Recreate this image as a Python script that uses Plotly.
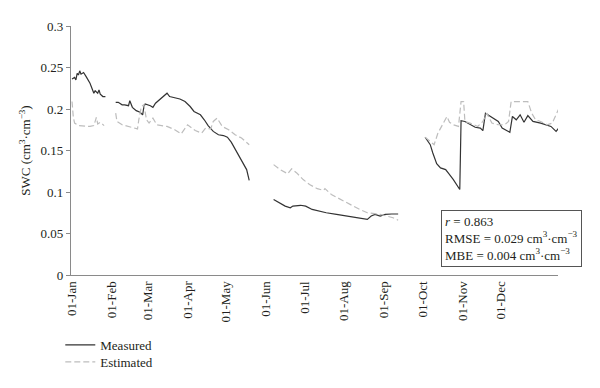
import plotly.graph_objects as go

# Day index (0 = 01-Jan) and soil water content values; None marks data gaps
measured_day = [0, 2, 3, 4, 5, 6, 7, 9, 11, 14, 17, 18, 20, 21, 22, 24, 26, None,
                34, 36, 39, 41, 44, 45, 47, 50, 53, 55, 56, 57, 61, 63, 65, 68, 71, 74, 76, 79,
                84, 88, 92, 95, 100, 103, 106, 110, 114, 118, 121, 124, 128, 132, 136, 138, None,
                157, 161, 166, 170, 172, 178, 182, 187, 192, 198, 206, 214, 222, 230, 233, 236,
                240, 244, 249, 254, None,
                275, 279, 281, 284, 287, 291, 293, 297, 302, 303, 306, 310, 314, 318, 320, 322,
                326, 329, 332, 335, 337, 341, 343, 346, 349, 352, 355, 359, 365, 370, 373, 377, 379]
measured_swc = [0.236, 0.238, 0.235, 0.243, 0.241, 0.246, 0.242, 0.244, 0.239, 0.231, 0.219, 0.222,
                0.219, 0.223, 0.218, 0.215, 0.215, None,
                0.208, 0.208, 0.205, 0.205, 0.204, 0.210, 0.202, 0.198, 0.196, 0.193, 0.203, 0.206,
                0.204, 0.202, 0.207, 0.211, 0.214, 0.219, 0.215, 0.214, 0.212, 0.209, 0.203, 0.197,
                0.193, 0.187, 0.180, 0.173, 0.169, 0.168, 0.166, 0.160, 0.149, 0.137, 0.127, 0.114, None,
                0.091, 0.087, 0.083, 0.081, 0.083, 0.084, 0.083, 0.079, 0.077, 0.075, 0.073, 0.071,
                0.069, 0.067, 0.071, 0.073, 0.071, 0.073, 0.0735, 0.0735, None,
                0.166, 0.157, 0.147, 0.134, 0.129, 0.127, 0.123, 0.115, 0.103, 0.186, 0.185, 0.181,
                0.178, 0.177, 0.174, 0.195, 0.191, 0.189, 0.185, 0.177, 0.175, 0.172, 0.191, 0.187,
                0.193, 0.184, 0.192, 0.185, 0.183, 0.181, 0.179, 0.173, 0.177]

estimated_day = [0, 1, 2, 5, 14, 17, 19, 20, 22, 25, None,
                 34, 35, 39, 47, 51, 52, 54, 56, 58, 60, 63, 66, 74, 80, 85, 90, 96, 101, 104, 108,
                 110, 113, 117, 122, 127, 132, 138, None,
                 157, 162, 168, 171, 175, 180, 185, 191, 196, 197, 202, 209, 216, 224, 230, 235,
                 240, 245, 250, 254, None,
                 275, 279, 282, 285, 288, 292, 294, 297, 301, 303, 305, 306, 310, 316, 320, 323,
                 327, 332, 337, 340, 342, 355, 358, 361, 365, 370, 374, 376, 379]
estimated_swc = [0.209, 0.190, 0.183, 0.180, 0.179, 0.180, 0.190, 0.182, 0.184, 0.180, None,
                 0.195, 0.185, 0.181, 0.178, 0.176, 0.187, 0.203, 0.205, 0.187, 0.183, 0.189, 0.181,
                 0.179, 0.175, 0.170, 0.181, 0.174, 0.171, 0.177, 0.176, 0.185, 0.189, 0.179, 0.175,
                 0.169, 0.165, 0.157, None,
                 0.133, 0.127, 0.122, 0.128, 0.123, 0.115, 0.109, 0.104, 0.102, 0.104, 0.097, 0.091,
                 0.085, 0.079, 0.075, 0.074, 0.073, 0.071, 0.069, 0.066, None,
                 0.166, 0.161, 0.157, 0.171, 0.180, 0.191, 0.184, 0.181, 0.179, 0.209, 0.209, 0.185,
                 0.183, 0.179, 0.185, 0.195, 0.183, 0.181, 0.181, 0.185, 0.209, 0.209, 0.195, 0.187,
                 0.185, 0.181, 0.183, 0.190, 0.200]

month_start_day = [0, 31, 59, 90, 120, 151, 181, 212, 243, 273, 304, 334]
month_labels = ["01-Jan", "01-Feb", "01-Mar", "01-Apr", "01-May", "01-Jun",
                "01-Jul", "01-Aug", "01-Sep", "01-Oct", "01-Nov", "01-Dec"]

FONT = "Liberation Serif, Times New Roman, serif"
TXT = "#231f20"
AX = "#8a8a8a"

fig = go.Figure()
fig.add_trace(go.Scatter(x=measured_day, y=measured_swc, mode="lines", name="Measured",
                         line=dict(color="#333333", width=1.2), connectgaps=False,
                         legend="legend"))
fig.add_trace(go.Scatter(x=estimated_day, y=estimated_swc, mode="lines", name="Estimated",
                         line=dict(color="#bdbdbd", width=1.2, dash="6px,3px"), connectgaps=False,
                         legend="legend2"))

leg_common = dict(x=-0.022, xanchor="left", yanchor="middle", bgcolor="rgba(0,0,0,0)",
                  font=dict(size=13, color=TXT), itemwidth=30)

# page body has an 8px margin, so the figure is 592x380 to fill the 600x388 window
fig.update_layout(
    width=592, height=380,
    margin=dict(l=63, r=42, t=18, b=113, autoexpand=False),
    paper_bgcolor="white", plot_bgcolor="white",
    font=dict(family=FONT, size=13, color=TXT),
    showlegend=True,
    legend=dict(y=-0.281, **leg_common),
    legend2=dict(y=-0.349, **leg_common),
    annotations=[dict(
        x=0.905, y=0.146, xref="paper", yref="paper", xanchor="center", yanchor="middle",
        align="left", showarrow=False,
        text=("<i>r</i> = 0.863<br>RMSE = 0.029 cm<sup>3</sup>·cm<sup>−3</sup>"
              "<br>MBE = 0.004 cm<sup>3</sup>·cm<sup>−3</sup>"),
        font=dict(size=13, color=TXT),
        bordercolor="#555555", borderwidth=1, borderpad=3, bgcolor="white")],
)

fig.update_xaxes(range=[-0.8, 378.5], tickmode="array", tickvals=month_start_day,
                 ticktext=month_labels, tickangle=-90, showgrid=False, zeroline=False,
                 showline=True, linecolor=AX, linewidth=1.2, ticks="", automargin=False,
                 tickfont=dict(size=13, color=TXT))
fig.update_yaxes(range=[0, 0.3], tickvals=[0, 0.05, 0.1, 0.15, 0.2, 0.25, 0.3],
                 ticktext=["0", "0.05", "0.1", "0.15", "0.2", "0.25", "0.3"],
                 showgrid=False, zeroline=False, showline=True, linecolor=AX, linewidth=1.2,
                 ticks="outside", ticklen=4, tickcolor=AX, automargin=False,
                 tickfont=dict(size=13, color=TXT),
                 title=dict(text="SWC (cm<sup>3</sup>·cm<sup>−3</sup>)", standoff=6,
                            font=dict(size=13, color=TXT)))

fig.write_html("out.html")
